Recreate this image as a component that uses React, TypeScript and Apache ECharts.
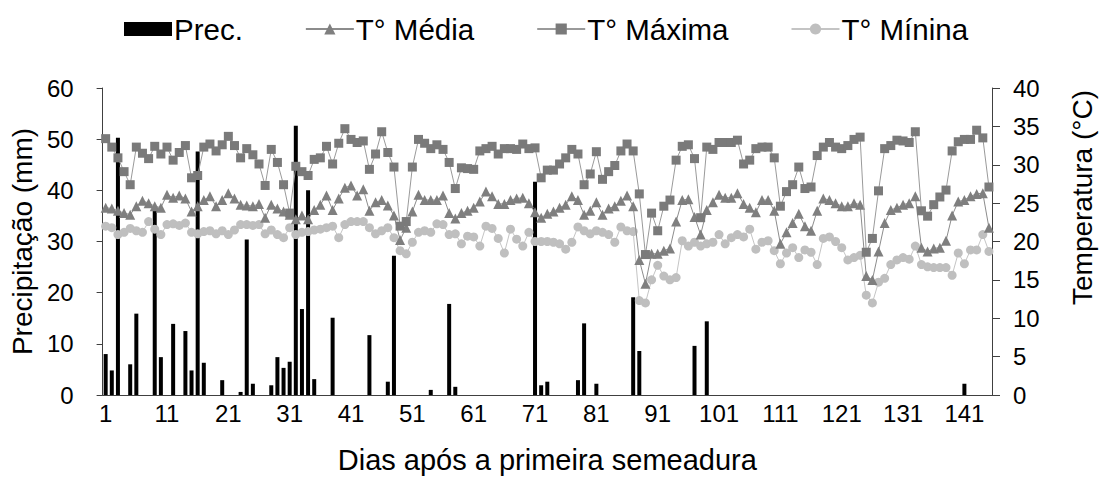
import React, { useEffect, useRef } from "react";
import * as echarts from "echarts";

const days: string[] = Array.from({ length: 145 }, (_, i) => String(i + 1));

const rainDays = [1, 2, 3, 5, 6, 9, 10, 12, 14, 15, 16, 17, 20, 23, 24, 25, 28, 29, 30, 31, 32, 33, 34, 35, 38, 44, 47, 48, 54, 57, 58, 71, 72, 73, 78, 79, 81, 87, 88, 97, 99, 141];
const rainMm = [8.0, 4.8, 50.3, 6.0, 15.9, 36.2, 7.4, 13.9, 12.5, 4.8, 47.6, 6.3, 2.9, 0.6, 30.4, 2.2, 1.9, 7.4, 5.3, 6.5, 52.6, 16.8, 40.0, 3.1, 15.1, 11.7, 2.6, 27.2, 1.0, 17.8, 1.6, 41.7, 1.9, 2.6, 2.9, 14.0, 2.2, 19.1, 8.6, 9.6, 14.4, 2.2];

const tMax = [
  33.4, 32.3, 30.9, 29.1, 27.4, 32.3, 31.5, 30.8, 32.4, 31.4,
  32.3, 30.6, 31.6, 32.5, 28.3, 28.6, 32.3, 32.7, 31.8, 32.6,
  33.7, 32.5, 30.9, 32.1, 31.3, 30.1, 27.3, 32.0, 30.3, 27.4,
  23.7, 29.8, 29.1, 28.6, 30.7, 30.9, 32.4, 30.1, 32.8, 34.7,
  33.3, 32.9, 33.1, 29.4, 31.4, 34.3, 31.6, 29.7, 22.0, 22.6,
  29.7, 33.3, 32.8, 32.1, 32.6, 32.0, 30.3, 26.9, 29.6, 29.5,
  29.4, 31.8, 32.1, 32.4, 31.4, 32.1, 32.1, 32.0, 32.7, 32.1,
  32.2, 28.3, 29.3, 29.3, 30.1, 30.9, 32.0, 31.4, 27.4, 28.8,
  31.7, 28.1, 29.1, 29.9, 31.8, 32.7, 31.8, 26.2, 18.3, 23.7,
  21.4, 24.6, 25.4, 30.6, 32.4, 32.6, 30.8, 23.1, 32.3, 32.0,
  32.9, 32.9, 32.9, 33.2, 30.1, 30.6, 32.1, 32.3, 32.3, 30.9,
  24.6, 26.5, 27.4, 29.7, 26.9, 27.1, 31.2, 32.3, 32.9, 32.3,
  32.1, 32.5, 33.3, 33.6, 18.6, 20.4, 26.6, 32.1, 32.5, 33.2,
  33.1, 32.9, 34.3, 24.0, 23.3, 24.8, 25.8, 26.7, 31.8, 33.0,
  33.3, 33.3, 34.5, 33.5, 27.1,
];

const tMed = [
  24.4, 24.3, 24.0, 23.7, 23.5, 24.6, 25.3, 25.0, 24.6, 24.4,
  26.1, 25.7, 26.0, 25.6, 23.9, 24.6, 25.4, 25.9, 24.6, 25.4,
  26.3, 25.6, 24.8, 24.7, 24.6, 24.9, 23.1, 24.8, 24.3, 23.9,
  23.5, 22.9, 23.4, 22.9, 24.1, 24.8, 26.0, 24.1, 25.6, 27.0,
  27.3, 26.0, 26.8, 24.0, 25.1, 25.4, 24.7, 23.4, 20.2, 21.8,
  23.9, 26.1, 25.4, 25.4, 25.4, 26.0, 23.7, 23.0, 23.7, 24.0,
  24.4, 25.2, 26.5, 25.9, 24.9, 24.9, 25.4, 25.6, 25.7, 25.0,
  23.8, 23.1, 23.6, 23.9, 24.4, 24.8, 25.9, 25.4, 23.5, 24.0,
  25.1, 23.5, 24.3, 24.6, 25.3, 26.0, 24.6, 17.6, 14.5, 18.4,
  18.4, 18.8, 19.1, 22.6, 25.4, 25.5, 23.2, 20.9, 24.1, 25.1,
  26.1, 25.7, 25.7, 26.3, 24.9, 24.4, 23.8, 25.4, 25.4, 24.0,
  19.7, 21.2, 22.4, 23.6, 22.0, 21.4, 24.0, 25.6, 25.4, 25.0,
  24.6, 24.6, 25.0, 24.8, 15.5, 15.0, 18.7, 22.4, 24.1, 24.4,
  24.8, 25.0, 25.9, 19.2, 18.7, 19.1, 19.2, 20.1, 23.4, 25.2,
  25.4, 25.9, 26.2, 26.3, 21.8,
];

const tMin = [
  22.0, 21.8, 20.9, 21.2, 21.7, 21.4, 21.2, 22.6, 21.6, 20.9,
  22.2, 22.3, 22.1, 22.4, 21.2, 21.0, 21.3, 21.4, 21.0, 21.4,
  20.9, 21.5, 22.2, 22.2, 22.1, 22.2, 21.0, 21.5, 20.9, 20.5,
  21.8, 20.9, 21.2, 21.3, 21.5, 21.6, 21.8, 22.0, 20.5, 22.2,
  22.6, 22.6, 22.6, 21.8, 21.0, 21.4, 21.8, 20.5, 18.8, 18.4,
  19.9, 21.2, 21.4, 21.2, 22.3, 22.2, 20.9, 21.0, 19.7, 20.7,
  20.6, 19.4, 22.0, 21.7, 20.4, 18.5, 21.6, 20.3, 19.4, 21.2,
  20.0, 20.0, 20.0, 19.9, 19.7, 19.0, 19.9, 21.9, 21.4, 21.0,
  21.4, 21.2, 20.9, 19.9, 21.9, 21.4, 21.3, 12.3, 12.0, 15.0,
  16.9, 15.5, 15.0, 15.3, 20.1, 19.4, 19.9, 19.4, 19.7, 19.9,
  20.9, 19.7, 20.5, 20.9, 20.6, 21.6, 19.0, 19.9, 20.1, 18.8,
  17.1, 18.5, 19.2, 17.9, 18.9, 18.6, 17.0, 20.4, 20.6, 20.0,
  19.2, 17.6, 17.9, 18.2, 13.0, 12.0, 14.7, 15.2, 17.0, 17.6,
  17.9, 17.7, 19.4, 17.0, 16.7, 16.6, 16.6, 16.6, 15.6, 18.5,
  17.1, 18.9, 18.9, 20.9, 18.7,
];

const precip: number[] = days.map((d) => {
  const k = rainDays.indexOf(Number(d));
  return k >= 0 ? rainMm[k] : 0;
});

const FONT = "'Liberation Sans', Arial, sans-serif";
const AXIS = "#404040";

export default function App() {
  const ref = useRef<HTMLDivElement>(null);
  useEffect(() => {
    if (!ref.current) return;
    const chart = echarts.init(ref.current, null, { renderer: "svg" });
    chart.setOption({
      animation: false,
      textStyle: { fontFamily: FONT, color: "#000" },
      legend: {
        left: 124,
        top: 14,
        padding: 0,
        itemWidth: 48,
        itemHeight: 14,
        itemGap: 62,
        textStyle: { fontSize: 29.5, color: "#000", fontFamily: FONT, padding: [0, 0, 0, -3] },
        data: [
          { name: "Prec.", icon: "rect" },
          { name: "T° Média" },
          { name: "T° Máxima" },
          { name: "T° Mínina" },
        ],
      },
      grid: { left: 102, right: 107, top: 88, bottom: 78 },
      xAxis: {
        type: "category",
        data: days,
        boundaryGap: true,
        name: "Dias após a primeira semeadura",
        nameLocation: "middle",
        nameGap: 50,
        nameTextStyle: { fontSize: 29, color: "#000" },
        axisLine: { lineStyle: { color: AXIS, width: 1 } },
        axisTick: { interval: 1, length: 7, lineStyle: { color: AXIS } },
        axisLabel: { interval: 9, fontSize: 24, color: "#000", margin: 6 },
      },
      yAxis: [
        {
          type: "value",
          min: 0,
          max: 60,
          interval: 10,
          name: "Precipitação (mm)",
          nameLocation: "middle",
          nameGap: 60,
          nameTextStyle: { fontSize: 28, color: "#000" },
          axisLine: { show: true, lineStyle: { color: AXIS } },
          axisTick: { show: true, length: 6, lineStyle: { color: AXIS } },
          axisLabel: { fontSize: 24, color: "#000", margin: 29 },
          splitLine: { show: false },
        },
        {
          type: "value",
          min: 0,
          max: 40,
          interval: 5,
          name: "Temperatura (°C)",
          nameLocation: "middle",
          nameGap: 76,
          nameTextStyle: { fontSize: 28, color: "#000", padding: [0, 0, 0, 88] },
          axisLine: { show: true, lineStyle: { color: AXIS } },
          axisTick: { show: true, length: 8, lineStyle: { color: AXIS } },
          axisLabel: { fontSize: 24, color: "#000", margin: 21 },
          splitLine: { show: false },
        },
      ],
      series: [
        {
          name: "Prec.",
          type: "bar",
          yAxisIndex: 0,
          data: precip,
          barWidth: 4,
          itemStyle: { color: "#000" },
          z: 1,
        },
        {
          name: "T° Mínina",
          type: "line",
          yAxisIndex: 1,
          data: tMin,
          symbol: "circle",
          symbolSize: 9,
          showAllSymbol: true,
          itemStyle: { color: "#bfbfbf" },
          lineStyle: { color: "#c4c4c4", width: 1 },
          z: 2,
        },
        {
          name: "T° Média",
          type: "line",
          yAxisIndex: 1,
          data: tMed,
          symbol: "triangle",
          symbolSize: 10,
          showAllSymbol: true,
          itemStyle: { color: "#7f7f7f" },
          lineStyle: { color: "#8c8c8c", width: 1 },
          z: 3,
        },
        {
          name: "T° Máxima",
          type: "line",
          yAxisIndex: 1,
          data: tMax,
          symbol: "rect",
          symbolSize: 9,
          showAllSymbol: true,
          itemStyle: { color: "#7a7a7a" },
          lineStyle: { color: "#9a9a9a", width: 1 },
          z: 4,
        },
      ],
    });
    return () => chart.dispose();
  }, []);
  return (
    <div
      ref={ref}
      style={{ position: "fixed", left: 0, top: 0, width: 1104, height: 479, background: "#fff" }}
    />
  );
}
